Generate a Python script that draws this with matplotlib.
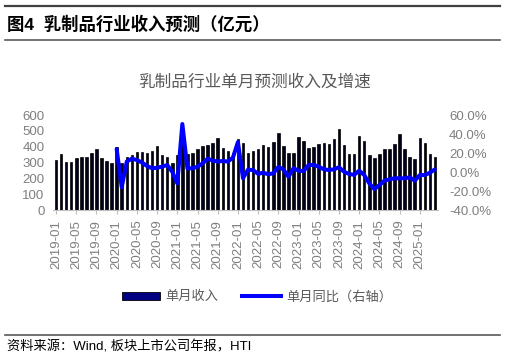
import pandas as pd
import matplotlib
matplotlib.use("Agg")
import matplotlib.pyplot as plt
from matplotlib.lines import Line2D
from matplotlib.patches import Patch
from matplotlib.ticker import FuncFormatter

plt.rcParams['font.family'] = ['Liberation Sans', 'Noto Sans CJK SC', 'DejaVu Sans']

# 月份（2019-01 ~ 2025-04）
months = [d.strftime('%Y-%m') for d in pd.date_range('2019-01-01', '2025-04-01', freq='MS')]

# 单月收入（亿元）
revenue = [
    316, 352, 303, 303, 326, 337, 337, 358, 383, 328, 312, 297,   # 2019
    395, 297, 337, 347, 364, 368, 358, 373, 404, 347, 337, 295,   # 2020
    347, 445, 355, 362, 385, 404, 410, 425, 453, 389, 375, 362,   # 2021
    450, 421, 362, 375, 383, 410, 400, 429, 484, 404, 358, 362,   # 2022
    463, 436, 394, 400, 415, 421, 415, 446, 512, 410, 354, 354,   # 2023
    467, 436, 347, 326, 354, 383, 383, 417, 480, 383, 333, 322,   # 2024
    457, 421, 352, 337,                                           # 2025
]

# 单月同比（%），从 2020-01 开始
yoy = [
    24.0, -16.0, 11.0, 14.0, 12.6, 10.0, 6.3, 3.9, 4.5, 5.6, 7.4, 0.3,      # 2020
    -12.0, 50.5, 3.9, 3.9, 5.6, 9.0, 14.0, 12.0, 11.0, 11.6, 11.0, 15.0,    # 2021
    31.5, -6.6, 2.5, 2.0, -2.0, -0.7, -2.4, -1.4, 5.3, 2.8, -5.0, 3.9,      # 2022
    1.4, 1.0, 7.4, 7.4, 5.6, 2.8, 2.1, 2.8, 5.0, 0.3, -2.1, -3.0,           # 2023
    1.4, -3.2, -12.0, -18.0, -13.7, -9.1, -7.7, -6.6, -6.6, -6.6, -5.6, -9.1,  # 2024
    -3.2, -3.2, -0.7, 2.8,                                                # 2025
]

tick_gray = '#7f7f7f'
x = list(range(len(months)))
x_yoy = x[12:]

fig = plt.figure(figsize=(5.06, 3.59), dpi=100)

# 页眉/页脚的分隔线
for yy, lw, col in [(1 - 6 / 359, 1.6, '#404040'), (1 - 40 / 359, 1.2, '#595959'), (1 - 335 / 359, 1.2, '#595959')]:
    fig.add_artist(Line2D([5 / 506, 500 / 506], [yy, yy], color=col, linewidth=lw, transform=fig.transFigure))

fig.text(7 / 506, 1 - 24 / 359, '图4  乳制品行业收入预测（亿元）', fontsize=12.5, fontweight='bold', va='center', ha='left')
fig.text(255 / 506, 1 - 82 / 359, '乳制品行业单月预测收入及增速', fontsize=12, color='#595959', va='center', ha='center')
fig.text(7 / 506, 1 - 347 / 359, '资料来源：Wind, 板块上市公司年报，HTI', fontsize=9.5, va='center', ha='left')

ax = fig.add_axes([53 / 506, 1 - 210 / 359, (438 - 53) / 506, 95 / 359])
ax.bar(x, revenue, width=0.5, color='#000018', edgecolor='#000000', linewidth=0.5, zorder=2)
ax.set_ylim(0, 600)
ax.set_yticks(range(0, 601, 100))
ax.set_xlim(-0.6, len(months) - 0.4)
ax.set_xticks(x[::4])
ax.set_xticklabels(months[::4], rotation=90)
ax.tick_params(axis='y', length=0, labelsize=9.5, labelcolor=tick_gray, pad=6)
ax.tick_params(axis='x', length=3, color='#bfbfbf', labelsize=9.5, labelcolor=tick_gray, pad=4)
for s in ['top', 'left', 'right']:
    ax.spines[s].set_visible(False)
ax.spines['bottom'].set_color('#bfbfbf')

ax2 = ax.twinx()
ax2.plot(x_yoy, yoy, color='#0000ff', linewidth=2.9, solid_joinstyle='round', solid_capstyle='round', zorder=3)
ax2.set_ylim(-40, 60)
ax2.set_yticks(range(-40, 61, 20))
ax2.yaxis.set_major_formatter(FuncFormatter(lambda v, p: f'{v:.1f}%'))
ax2.tick_params(axis='y', length=0, labelsize=9.5, labelcolor=tick_gray, pad=8)
for s in ['top', 'left', 'right', 'bottom']:
    ax2.spines[s].set_visible(False)

handles = [Patch(facecolor='#000080', edgecolor='#000000', linewidth=0.6),
           Line2D([0], [0], color='#0000ff', linewidth=2.9)]
fig.legend(handles, ['单月收入', '单月同比（右轴）'], loc='center', bbox_to_anchor=(257 / 506, 1 - 297 / 359),
           ncol=2, frameon=False, fontsize=9.5, labelcolor='#595959', handlelength=2.9,
           handleheight=0.6, columnspacing=1.8, handletextpad=0.4)

fig.savefig('out.png', dpi=100)
